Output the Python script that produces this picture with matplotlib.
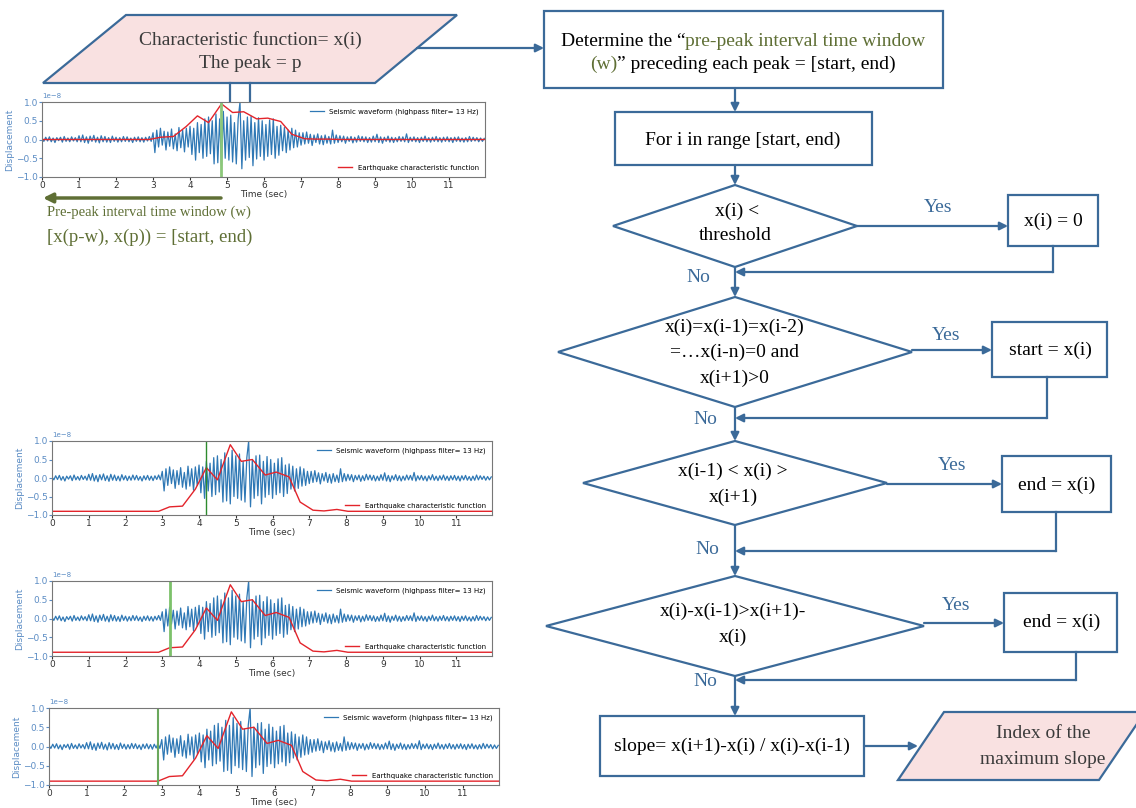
import numpy as np
import matplotlib
matplotlib.use("Agg")
import matplotlib.pyplot as plt
from matplotlib.patches import Polygon, Rectangle

# ---- data ----
dt = 0.05  # waveform sample step (sec)
wave = [
    0.03, -0.05, 0.06, -0.04, 0.07, -0.06, 0.04, -0.08, 0.05, -0.03, 0.06, -0.07, 0.08, -0.05, 0.04, -0.06, 0.07, -0.04, 0.05, -0.06,
    0.10, -0.06, 0.12, -0.08, 0.07, -0.10, 0.09, -0.05, 0.11, -0.07, 0.06, -0.09, 0.10, -0.06, 0.08, -0.07, 0.05, -0.08, 0.09, -0.05,
    0.06, -0.07, 0.05, -0.06, 0.08, -0.05, 0.07, -0.06, 0.04, -0.08, 0.06, -0.05, 0.07, -0.06, 0.05, -0.07, 0.06, -0.04, 0.08, -0.05,
    0.18, -0.35, 0.25, -0.20, 0.30, -0.15, 0.22, -0.28, 0.20, -0.18, 0.28, -0.25, 0.15, -0.30, 0.32, -0.22, 0.25, -0.33, 0.30, -0.20,
    0.35, -0.40, 0.30, -0.55, 0.45, -0.35, 0.40, -0.50, 0.55, -0.45, 0.60, -0.38, 0.50, -0.65, 0.68, -0.62, 0.55, -0.70, 0.75, -0.50,
    0.60, -0.55, 0.65, -0.60, 0.45, -0.65, 0.55, 1.00, -0.78, 0.50, -0.55, 0.60, -0.48, 0.62, -0.70, 0.45, -0.52, 0.58, -0.45, 0.50,
    -0.55, 0.40, -0.45, 0.52, -0.40, 0.55, -0.50, 0.35, -0.42, 0.38, -0.30, 0.32, -0.35, 0.25, -0.28, 0.30, -0.22, 0.25, -0.20, 0.18,
    -0.15, 0.18, -0.12, 0.20, -0.10, 0.14, -0.16, 0.12, -0.08, 0.15, -0.12, 0.10, -0.14, 0.12, -0.10, 0.08, -0.12, 0.25, -0.10, 0.12,
    -0.08, 0.10, -0.06, 0.09, -0.10, 0.07, -0.05, 0.08, -0.09, 0.06, -0.07, 0.10, -0.05, 0.08, -0.06, 0.07, -0.08, 0.05, -0.07, 0.09,
    -0.06, 0.14, -0.08, 0.07, -0.10, 0.06, -0.05, 0.09, -0.07, 0.06, -0.08, 0.05, -0.06, 0.08, -0.05, 0.07, -0.06, 0.15, -0.08, 0.06,
    -0.05, 0.07, -0.06, 0.05, -0.08, 0.06, -0.05, 0.09, -0.06, 0.05, -0.07, 0.06, -0.05, 0.08, -0.06, 0.05, -0.07, 0.06, -0.05, 0.07,
    -0.06, 0.05, -0.08, 0.06, -0.05, 0.07, -0.06, 0.04, -0.07, 0.05, -0.06, 0.08, -0.05, 0.06, -0.04, 0.05, -0.06, 0.04, -0.05, 0.03,
]
char_t = [0, 2.9, 3.2, 3.55, 3.9, 4.2, 4.5, 4.85, 5.15, 5.45, 5.8, 6.1, 6.45, 6.75, 7.1, 7.4, 7.75, 8.05, 12]
char_top = [0, 0, 0.06, 0.08, 0.35, 0.63, 0.45, 0.95, 0.72, 0.74, 0.55, 0.57, 0.48, 0.14, 0.02, 0.01, 0.01, 0, 0]
char_low = [-0.9, -0.9, -0.78, -0.76, -0.3, 0.28, -0.05, 0.9, 0.45, 0.5, 0.08, 0.16, 0.03, -0.65, -0.87, -0.89, -0.85, -0.9, -0.9]
picks = [4.83, 4.2, 3.2, 2.9]
pick_colors = ["#8cc87a", "#2e8b2e", "#7cc16a", "#6aa85c"]
pick_widths = [2.0, 1.0, 2.0, 1.5]

BLUE = "#3b6a99"
OLIVE = "#5f6f35"
PINK = "#f9e1e1"
TXT = "#3b3b3b"
SERIF = "Liberation Serif"

fig = plt.figure(figsize=(11.36, 8.08), dpi=100)
ax = fig.add_axes([0, 0, 1, 1])
ax.set_xlim(0, 1136)
ax.set_ylim(808, 0)
ax.axis("off")


def px(l, t, r, b):
    return [l / 1136, 1 - b / 808, (r - l) / 1136, (b - t) / 808]


def panel(rect, cvals, pick, pc, pw):
    a = fig.add_axes(rect)
    t = np.arange(len(wave)) * dt
    l1, = a.plot(t, np.array(wave) * 1e-8, color="#2f78b5", lw=0.9,
                 label="Seismic waveform (highpass filter= 13 Hz)")
    l2, = a.plot(char_t, np.array(cvals) * 1e-8, color="#e3242b", lw=1.0,
                 label="Earthquake characteristic function")
    a.axvline(pick, color=pc, lw=pw)
    a.set_xlim(0, 11.97)
    a.set_ylim(-1e-8, 1e-8)
    a.set_xticks(range(12))
    a.set_yticks([-1e-8, -0.5e-8, 0, 0.5e-8, 1e-8])
    a.tick_params(axis="x", labelsize=6.5, length=2, pad=1, colors="#333333")
    a.tick_params(axis="y", labelsize=6.5, length=2, pad=1, colors="#5b8cc4")
    a.yaxis.get_offset_text().set_fontsize(5)
    a.yaxis.get_offset_text().set_color("#5b8cc4")
    a.set_xlabel("Time (sec)", fontsize=6.5, labelpad=0, color="#333333")
    a.set_ylabel("Displacement", fontsize=6.5, labelpad=1, color="#5b8cc4")
    for s in a.spines.values():
        s.set_color("#777777")
        s.set_linewidth(0.8)
    lg = a.legend(handles=[l1], loc="upper right", fontsize=5, frameon=False)
    a.add_artist(lg)
    a.legend(handles=[l2], loc="lower right", fontsize=5, frameon=False)


rects = [px(42, 102, 485, 177), px(52, 441, 492, 515),
         px(52, 581, 492, 656), px(49, 708, 499, 785)]
cfs = [char_top, char_low, char_low, char_low]
for r, c, p, pc, pw in zip(rects, cfs, picks, pick_colors, pick_widths):
    panel(r, c, p, pc, pw)


# ---- flowchart ----
def box(x0, y0, x1, y1, fc="white"):
    ax.add_patch(Rectangle((x0, y0), x1 - x0, y1 - y0, fc=fc, ec=BLUE, lw=1.6))


def diamond(cx, cy, hw, hh):
    ax.add_patch(Polygon([(cx - hw, cy), (cx, cy - hh), (cx + hw, cy), (cx, cy + hh)],
                         closed=True, fc="white", ec=BLUE, lw=1.6))


def arrow(x0, y0, x1, y1, color=BLUE, lw=1.6, ms=12):
    ax.annotate("", xy=(x1, y1), xytext=(x0, y0),
                arrowprops=dict(arrowstyle="-|>", color=color, lw=lw,
                                shrinkA=0, shrinkB=0, mutation_scale=ms))


def label(x, y, s, size=14, color="black", ha="center"):
    ax.text(x, y, s, fontsize=size, color=color, ha=ha, va="center", family=SERIF)


def colored_line(cx, y, parts, size=14):
    r = fig.canvas.get_renderer()
    widths = []
    for s, c in parts:
        t = ax.text(0, 0, s, fontsize=size, family=SERIF)
        widths.append(t.get_window_extent(renderer=r).width)
        t.remove()
    x = cx - sum(widths) / 2
    for (s, c), w in zip(parts, widths):
        ax.text(x, y, s, fontsize=size, color=c, ha="left", va="center", family=SERIF)
        x += w


# input parallelogram
ax.add_patch(Polygon([(43, 83), (126, 15), (457, 15), (375, 83)], closed=True,
                     fc=PINK, ec=BLUE, lw=1.6))
label(250, 40, "Characteristic function= x(i)", color=TXT)
label(250, 64, "The peak = p", color=TXT)
ax.plot([230, 230], [83, 102], color=BLUE, lw=1.6)
ax.plot([250, 250], [83, 102], color=BLUE, lw=1.6)
arrow(417, 48, 544, 48)

# pre-peak annotation
arrow(221, 198, 43, 198, color=OLIVE, lw=2.5, ms=14)
label(47, 212, "Pre-peak interval time window (w)", size=10.5, color=OLIVE, ha="left")
label(47, 237, "[x(p-w), x(p)) = [start, end)", size=13.5, color=OLIVE, ha="left")

# box 1
box(544, 11, 943, 88)
colored_line(743, 41, [("Determine the \u201c", "black"), ("pre-peak interval time window", OLIVE)])
colored_line(743, 64, [("(w)", OLIVE), ("\u201d preceding each peak = [start, end)", "black")])
arrow(735, 88, 735, 112)

box(615, 112, 872, 165)
label(743, 140, "For i in range [start, end)")
arrow(735, 165, 735, 185)

# decision 1
diamond(735, 226, 122, 41)
label(737, 211, "x(i) <")
label(735, 236, "threshold")
arrow(857, 226, 1008, 226)
box(1008, 195, 1098, 246)
label(1053, 221, "x(i) = 0")
ax.plot([1053, 1053], [246, 272], color=BLUE, lw=1.6)
arrow(1053, 272, 735, 272)
arrow(735, 267, 735, 297)

# decision 2
diamond(735, 352, 177, 55)
label(735, 327, "x(i)=x(i-1)=x(i-2)")
label(735, 352, "=\u2026x(i-n)=0 and")
label(735, 378, "x(i+1)>0")
arrow(912, 350, 992, 350)
box(992, 322, 1107, 377)
label(1050, 350, "start = x(i)")
ax.plot([1047, 1047], [377, 418], color=BLUE, lw=1.6)
arrow(1047, 418, 735, 418)
arrow(735, 407, 735, 441)

# decision 3
diamond(735, 483, 152, 42)
label(733, 471, "x(i-1) < x(i) >")
label(733, 497, "x(i+1)")
arrow(887, 484, 1002, 484)
box(1002, 456, 1111, 512)
label(1057, 485, "end = x(i)")
ax.plot([1056, 1056], [512, 551], color=BLUE, lw=1.6)
arrow(1056, 551, 735, 551)
arrow(735, 525, 735, 576)

# decision 4
diamond(735, 626, 189, 50)
label(733, 611, "x(i)-x(i-1)>x(i+1)-")
label(733, 637, "x(i)")
arrow(924, 623, 1004, 623)
box(1004, 593, 1117, 652)
label(1062, 622, "end = x(i)")
ax.plot([1076, 1076], [652, 680], color=BLUE, lw=1.6)
arrow(1076, 680, 735, 680)
arrow(735, 676, 735, 716)

# slope box and output
box(600, 716, 864, 776)
label(732, 746, "slope= x(i+1)-x(i) / x(i)-x(i-1)")
arrow(864, 746, 918, 746)
ax.add_patch(Polygon([(898, 780), (944, 712), (1145, 712), (1099, 780)], closed=True,
                     fc=PINK, ec=BLUE, lw=1.6))
label(1043, 734, "Index of the", color=TXT)
label(1043, 760, "maximum slope", color=TXT)

# yes / no
for x, y in [(938, 207), (946, 335), (952, 466), (956, 605)]:
    label(x, y, "Yes", color=BLUE)
for x, y in [(698, 278), (705, 420), (707, 549), (705, 681)]:
    label(x, y, "No", color=BLUE)

fig.savefig("out.png", dpi=100)
